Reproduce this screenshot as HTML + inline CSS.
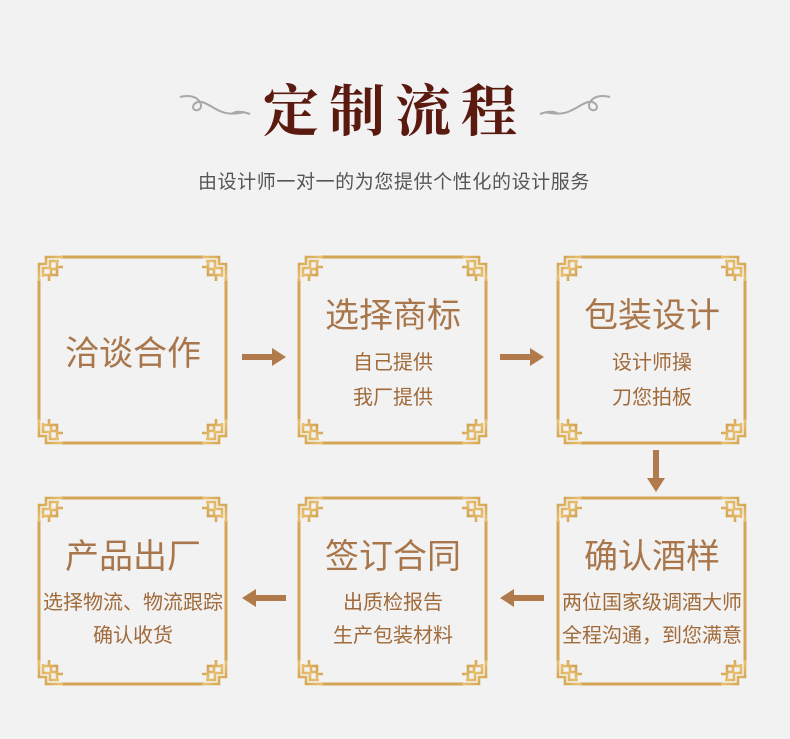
<!DOCTYPE html>
<html><head><meta charset="utf-8"><style>
html,body{margin:0;padding:0;background:#f2f2f2;}
body{width:790px;height:734px;overflow:hidden;}
</style></head><body>
<svg width="790" height="734" viewBox="0 0 790 734" xmlns="http://www.w3.org/2000/svg">
<defs>
<linearGradient id="g" gradientUnits="userSpaceOnUse" x1="0" y1="0" x2="26" y2="26">
<stop offset="0" stop-color="#c8963c"/><stop offset="0.5" stop-color="#e8c070"/><stop offset="1" stop-color="#c08a36"/>
</linearGradient>
<g id="c" fill="none" stroke="url(#g)" stroke-width="2.6">
<path d="M2,26 V9 H9 V2 H26"/>
<path d="M6,22 V13 H13 V6 H22"/>
<rect x="14" y="14" width="6" height="6"/>
<path d="M20,6 V12 H26"/>
<path d="M6,20 H12 V26"/>
</g>
<g id="b">
<g stroke="#d4a555" stroke-width="3" fill="none">
<line x1="24" y1="2" x2="167" y2="2"/>
<line x1="24" y1="188" x2="167" y2="188"/>
<line x1="2" y1="24" x2="2" y2="166"/>
<line x1="189" y1="24" x2="189" y2="166"/>
</g>
<use href="#c"/>
<use href="#c" transform="translate(191,0) scale(-1,1)"/>
<use href="#c" transform="translate(0,190) scale(1,-1)"/>
<use href="#c" transform="translate(191,190) scale(-1,-1)"/>
</g>
</defs>
<g fill="none" stroke="#a8a8a8" stroke-width="2">
<path d="M180,97 C200,92 205,108 198,110 C190,112 192,100 202,102 C215,106 220,118 245,112"/>
<path d="M232,114 C236,110 244,112 250,114"/>
<path d="M610,97 C590,92 585,108 592,110 C600,112 598,100 588,102 C575,106 570,118 545,112"/>
<path d="M558,114 C554,110 546,112 540,114"/>
</g>
<text x="395" y="131" text-anchor="middle" font-family="'Noto Serif CJK SC',serif" font-weight="bold" font-size="56" fill="#5a1a10" letter-spacing="10">定制流程</text>
<text x="394" y="188" text-anchor="middle" font-family="'Liberation Sans','Noto Sans CJK SC',sans-serif" font-size="19" fill="#555" letter-spacing="0.6">由设计师一对一的为您提供个性化的设计服务</text>

<use href="#b" x="37" y="255"/><use href="#b" x="297" y="255"/><use href="#b" x="556" y="255"/>
<use href="#b" x="37" y="496"/><use href="#b" x="297" y="496"/><use href="#b" x="556" y="496"/>

<g font-family="'Liberation Sans','Noto Sans CJK SC',sans-serif" text-anchor="middle" fill="#a8764a">
<text x="133" y="365" font-size="34">洽谈合作</text>
<text x="393" y="327" font-size="34">选择商标</text>
<text x="393" y="369" font-size="20" fill="#a06a3a">自己提供</text>
<text x="393" y="404" font-size="20" fill="#a06a3a">我厂提供</text>
<text x="652" y="327" font-size="34">包装设计</text>
<text x="652" y="369" font-size="20" fill="#a06a3a">设计师操</text>
<text x="652" y="404" font-size="20" fill="#a06a3a">刀您拍板</text>
<text x="133" y="568" font-size="34">产品出厂</text>
<text x="133" y="609" font-size="20" fill="#a06a3a">选择物流、物流跟踪</text>
<text x="133" y="642" font-size="20" fill="#a06a3a">确认收货</text>
<text x="393" y="568" font-size="34">签订合同</text>
<text x="393" y="609" font-size="20" fill="#a06a3a">出质检报告</text>
<text x="393" y="642" font-size="20" fill="#a06a3a">生产包装材料</text>
<text x="652" y="568" font-size="34">确认酒样</text>
<text x="652" y="609" font-size="20" fill="#a06a3a">两位国家级调酒大师</text>
<text x="652" y="642" font-size="20" fill="#a06a3a">全程沟通，到您满意</text>
</g>
<g fill="#b07a4a">
<path d="M242,354 H272 V348 L286,357 L272,366 V360 H242 Z"/>
<path d="M500,354 H530 V348 L544,357 L530,366 V360 H500 Z"/>
<path d="M653,450 V478 H647 L656,492 L665,478 H659 V450 Z"/>
<path d="M544,595 H514 V589 L500,598 L514,607 V601 H544 Z"/>
<path d="M286,595 H256 V589 L242,598 L256,607 V601 H286 Z"/>
</g>
</svg>
</body></html>
